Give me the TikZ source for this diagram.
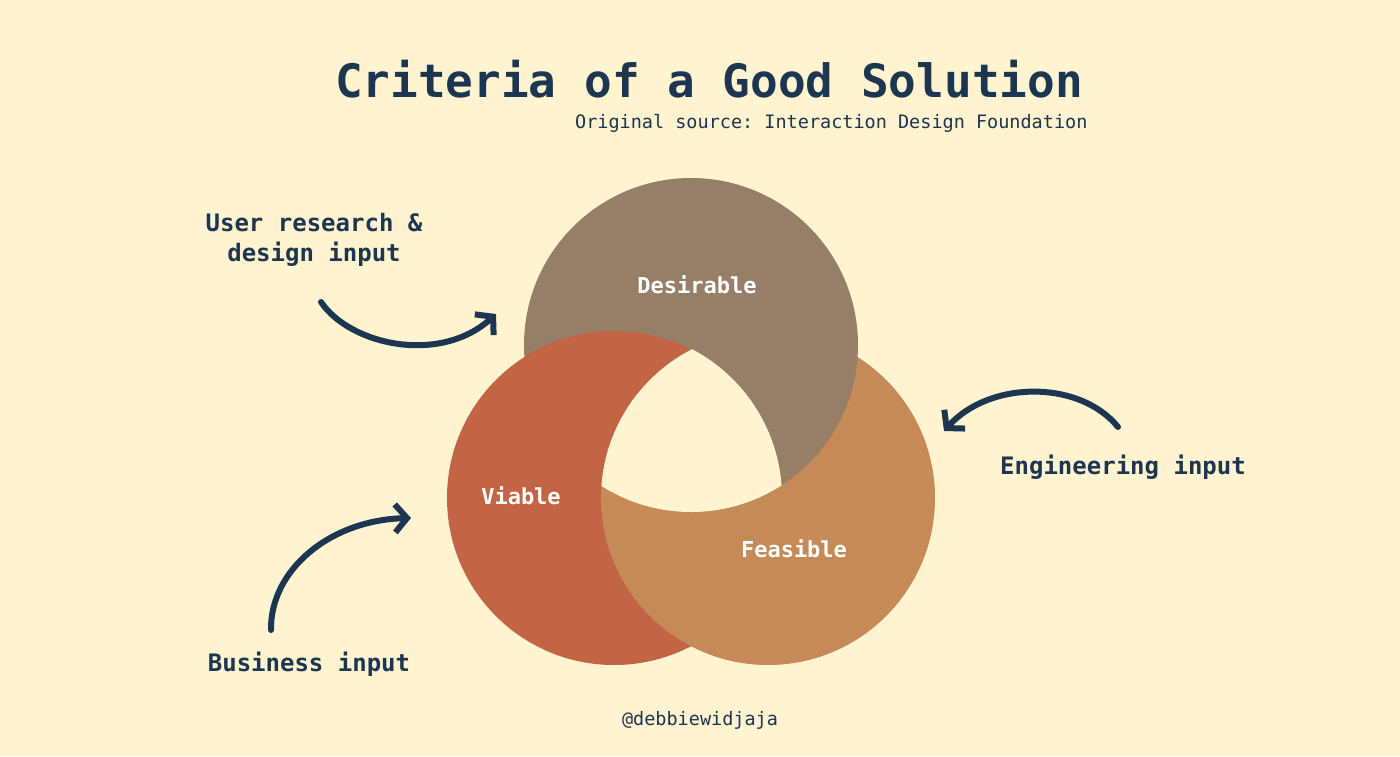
\documentclass[tikz,border=0pt]{standalone}
\usepackage{fontspec}
\setmonofont{DejaVu Sans Mono}
\usetikzlibrary{arrows.meta}
\definecolor{navy}{HTML}{1C3550}
\definecolor{cream}{HTML}{FFF3D0}
\definecolor{desir}{HTML}{967F66}
\definecolor{viab}{HTML}{C36445}
\definecolor{feas}{HTML}{C58A55}
\tikzset{
  lbl/.style={text=navy, font=\ttfamily\bfseries\fontsize{24}{30}\selectfont, align=center},
  inlbl/.style={text=white, font=\ttfamily\bfseries\fontsize{22}{26}\selectfont},
  curvy/.style={navy, line width=6pt, line cap=round, -{Straight Barb[length=12pt,width=28pt,line width=6pt]}}
}
\begin{document}
\begin{tikzpicture}[x=1pt,y=-1pt]
  \fill[cream] (0,0) rectangle (1400,756);
  \useasboundingbox (0,0) rectangle (1400,756);

  % the three circles
  \fill[feas] (768,498) circle (167);
  \fill[desir] (691,345) circle (167);
  \fill[viab] (614,498) circle (167);
  \begin{scope}
    \clip (614,498) circle (168);
    \fill[feas] (768,498) circle (167);
    \clip (768,498) circle (167);
    \fill[cream] (691,345) circle (167);
  \end{scope}

  \node[inlbl] (des) at (697,285) {Desirable};
  \node[inlbl] (via) at (521,496) {Viable};
  \node[inlbl] (fea) at (794,549) {Feasible};

  % titles
  \node[text=navy, font=\ttfamily\bfseries\fontsize{46}{50}\selectfont] (title) at (709,79) {Criteria of a Good Solution};
  \node[text=navy, font=\ttfamily\fontsize{18.5}{22}\selectfont, anchor=east] (src) at (1091,123) {Original source: Interaction Design Foundation};
  \node[text=navy, font=\ttfamily\fontsize{18.5}{22}\selectfont] (handle) at (700,720) {@debbiewidjaja};

  % inputs
  \node[lbl] (user) at (314,240) {User research \&\\design input};
  \node[lbl] (eng) at (1123,467) {Engineering input};
  \node[lbl] (bus) at (309,664) {Business input};

  \coordinate (u0) at (321,302);
  \coordinate (u1) at (496,314);
  \coordinate (e0) at (1118,427);
  \coordinate (e1) at (944,431);
  \coordinate (b0) at (271,630);
  \coordinate (b1) at (411,518);
  \draw[curvy] (u0) .. controls (350,345) and (440,365) .. (u1);
  \draw[curvy] (e0) .. controls (1080,380) and (990,380) .. (e1);
  \draw[curvy] (b0) .. controls (270,570) and (330,520) .. (b1);
\end{tikzpicture}
\end{document}
